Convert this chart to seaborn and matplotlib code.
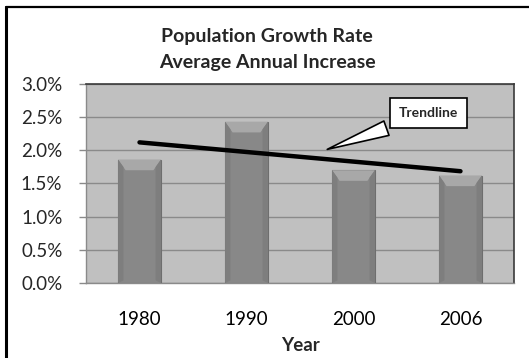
import numpy as np
import pandas as pd
import matplotlib.pyplot as plt
import seaborn as sns
from matplotlib.patches import Polygon
from matplotlib.lines import Line2D
from matplotlib.ticker import FuncFormatter, FixedLocator

# --- Data ---
years = ["1980", "1990", "2000", "2006"]
growth_rate = [1.86, 2.43, 1.70, 1.62]  # percent

sns.set_theme(style="white")
plt.rcParams["font.family"] = ["Lato", "DejaVu Sans"]

df = pd.DataFrame({"Year": years, "Rate": growth_rate})

fig = plt.figure(figsize=(5.29, 3.58), dpi=100)
ax = fig.add_axes([0.1626, 0.2095, 0.8090, 0.5559])
ax.set_facecolor("#c0c0c0")

sns.barplot(data=df, x="Year", y="Rate", color="#888888", width=0.4,
            edgecolor="#6e6e6e", linewidth=0.8, saturation=1, ax=ax, zorder=3)

# bevelled tops on bars
for p in ax.patches:
    x0, w, h = p.get_x(), p.get_width(), p.get_height()
    d = 0.16
    cap = Polygon([(x0, h), (x0 + w, h), (x0 + w - 0.07, h - d), (x0 + 0.07, h - d)],
                  closed=True, fc="#a8a8a8", ec="none", zorder=4)
    ax.add_patch(cap)
    for xa, xb in [(x0, x0 + 0.05), (x0 + w, x0 + w - 0.05)]:
        side = Polygon([(xa, h), (xb, h - d * 0.7), (xb, 0.04), (xa, 0)],
                       closed=True, fc="#7e7e7e", ec="none", zorder=4)
        ax.add_patch(side)

# linear trendline
xs = np.arange(len(years))
slope, intercept = np.polyfit(xs, growth_rate, 1)
ax.plot(xs, slope * xs + intercept, color="black", lw=3.2, solid_capstyle="round", zorder=5)

ax.annotate("Trendline", xy=(1.73, 2.0), xytext=(2.70, 2.56),
            ha="center", va="center", fontsize=10, fontweight="bold",
            bbox=dict(boxstyle="square,pad=0.65", fc="white", ec="black", lw=1.2),
            arrowprops=dict(arrowstyle="wedge,tail_width=1.1,shrink_factor=0.5",
                            fc="white", ec="black", lw=1.2),
            zorder=6)

ax.set_xlim(-0.5, 3.5)
ax.set_ylim(0, 3.0)
ax.set_yticks(np.arange(0, 3.01, 0.5))
ax.yaxis.set_major_formatter(FuncFormatter(lambda v, _: f"{v:.1f}%"))
ax.grid(axis="y", color="#8a8a8a", lw=1, zorder=0)
ax.set_axisbelow(True)

ax.xaxis.set_minor_locator(FixedLocator([-0.5, 0.5, 1.5, 2.5, 3.5]))
ax.tick_params(axis="x", which="major", length=0, pad=20, labelsize=13.5, colors="black")
ax.tick_params(axis="x", which="minor", length=5, width=1, color="#8a8a8a", direction="out")
ax.tick_params(axis="y", length=5, width=1, color="#8a8a8a", pad=12, labelsize=13.5,
               left=True, direction="out")

for s in ["top", "right"]:
    ax.spines[s].set_color("#3a3a3a")
    ax.spines[s].set_linewidth(1.2)
for s in ["left", "bottom"]:
    ax.spines[s].set_color("#8a8a8a")
    ax.spines[s].set_linewidth(1)

ax.set_ylabel("")
ax.set_xlabel("Year", fontsize=13.5, fontweight="bold", labelpad=7)

fig.text(0.505, 0.897, "Population Growth Rate", ha="center", va="center",
         fontsize=14, fontweight="bold")
fig.text(0.505, 0.825, "Average Annual Increase", ha="center", va="center",
         fontsize=14, fontweight="bold")

# outer chart frame (top and left edges visible)
fig.add_artist(Line2D([0.011, 1.0], [0.980, 0.980], color="black", lw=1.6))
fig.add_artist(Line2D([0.011, 0.011], [0.0, 0.980], color="black", lw=2.2))

fig.savefig("out.png", dpi=100)
